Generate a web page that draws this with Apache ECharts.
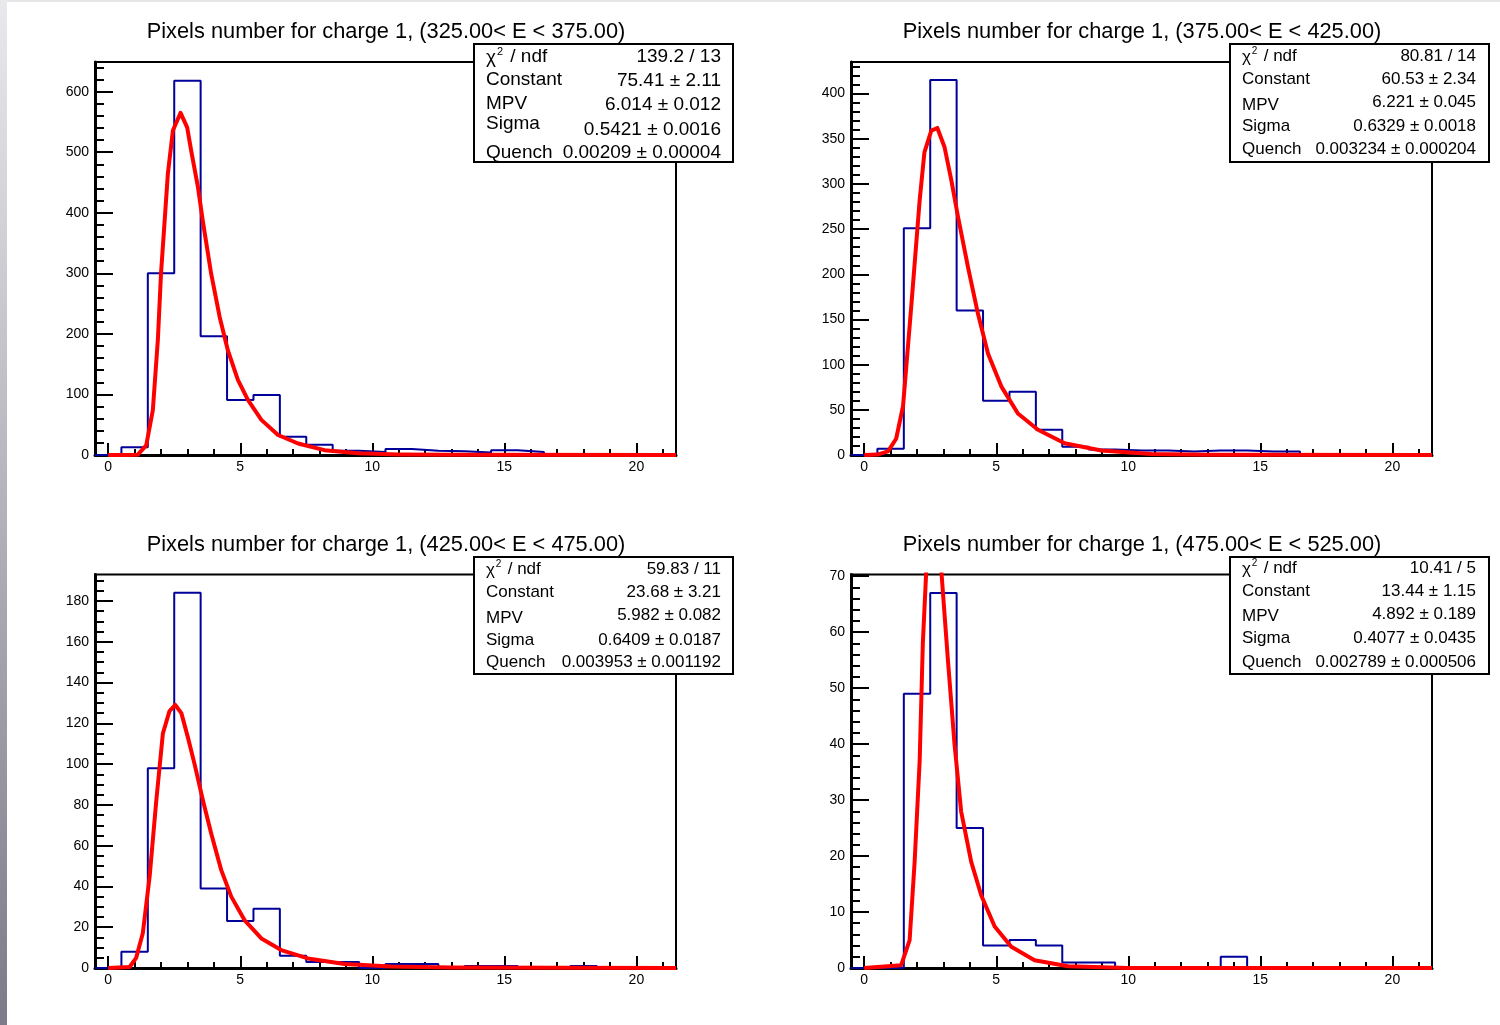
<!DOCTYPE html>
<html>
<head>
<meta charset="utf-8">
<script src="https://cdn.jsdelivr.net/npm/echarts@6/dist/echarts.min.js"></script>
<style>
html, body { margin: 0; padding: 0; background: #fff; }
#main { position: absolute; left: 0; top: 0; width: 1500px; height: 1025px; }
#strip { position: absolute; left: 0; top: 0; width: 7px; height: 1025px; background: linear-gradient(#e9e9ec, #7b7b89); }
#topline { position: absolute; left: 0; top: 0; width: 1500px; height: 2px; background: #e6e6e6; }
</style>
</head>
<body>
<div id="main"></div>
<div id="topline"></div>
<div id="strip"></div>
<script>
// bins are 1 wide, centred on 0..21
var binCenters = [0, 1, 2, 3, 4, 5, 6, 7, 8, 9, 10, 11, 12, 13, 14, 15, 16, 17, 18, 19, 20, 21];

var counts325 = [0, 13, 300, 618, 196, 91, 99, 30, 17, 7, 5, 10, 7, 6, 4, 8, 5, 0, 0, 0, 0, 0];
var counts375 = [0, 7, 251, 415, 160, 60, 70, 28, 9, 6, 5, 5, 4, 5, 5, 4, 4, 0, 1, 0, 0, 0];
var counts425 = [0, 8, 98, 184, 39, 23, 29, 6, 3, 3, 0, 2, 2, 0, 1, 1, 0, 0, 1, 0, 0, 0];
var counts475 = [0, 0, 49, 67, 25, 4, 5, 4, 1, 1, 0, 0, 0, 0, 2, 0, 0, 0, 0, 0, 0, 0];

// fitted curves
var fitX325 = [0, 0.5, 1.12, 1.44, 1.69, 1.88, 2.0, 2.13, 2.26, 2.45, 2.58, 2.74, 2.99, 3.14, 3.4, 3.58, 3.9, 4.22, 4.53, 4.91, 5.29, 5.8, 6.43, 7.19, 8.19, 9.46, 11, 13, 21.5];
var fitY325 = [0, 0, 0.5, 16, 74, 190, 300, 382, 465, 536, 549, 565, 541, 503, 442, 387, 299, 228, 173, 124, 91, 58, 33, 19, 8, 3, 1, 0.3, 0];
var fitX375 = [0, 0.5, 0.9, 1.21, 1.47, 1.78, 2.1, 2.28, 2.54, 2.77, 3.04, 3.3, 3.55, 3.93, 4.31, 4.69, 5.19, 5.82, 6.58, 7.59, 8.98, 10.87, 13, 21.5];
var fitY375 = [0, 0.5, 4, 18, 54, 164, 282, 335, 359, 362, 341, 304, 264, 208, 156, 112, 76, 46, 28, 13, 5, 1, 0.3, 0];
var fitX425 = [0, 0.81, 1.06, 1.31, 1.57, 1.82, 2.07, 2.32, 2.54, 2.77, 3.02, 3.27, 3.59, 3.9, 4.28, 4.66, 5.16, 5.8, 6.55, 7.56, 8.95, 10.7, 13, 21.5];
var fitY425 = [0, 0.5, 5, 17, 45, 82, 115, 126, 129, 125, 113, 100, 82, 66, 48, 35, 23.5, 14.5, 8.8, 4.7, 2, 0.7, 0.2, 0];
var fitX475 = [0, 1.4, 1.72, 1.91, 2.1, 2.22, 2.35, 2.5, 2.7, 2.92, 3.17, 3.42, 3.67, 4.05, 4.43, 4.94, 5.57, 6.45, 7.72, 10, 21.5];
var fitY475 = [0, 0.5, 5, 19, 37, 58, 71, 86, 87, 71, 55, 40, 28, 19, 13, 7.4, 3.8, 1.4, 0.3, 0, 0];

var titles = [
    'Pixels number for charge 1, (325.00< E < 375.00)',
    'Pixels number for charge 1, (375.00< E < 425.00)',
    'Pixels number for charge 1, (425.00< E < 475.00)',
    'Pixels number for charge 1, (475.00< E < 525.00)'
];

var statLabels = ['Constant', 'MPV', 'Sigma', 'Quench'];
var stats325 = ['139.2 / 13', '75.41 \u00b1 2.11', '6.014 \u00b1 0.012', '0.5421 \u00b1 0.0016', '0.00209 \u00b1 0.00004'];
var stats375 = ['80.81 / 14', '60.53 \u00b1 2.34', '6.221 \u00b1 0.045', '0.6329 \u00b1 0.0018', '0.003234 \u00b1 0.000204'];
var stats425 = ['59.83 / 11', '23.68 \u00b1 3.21', '5.982 \u00b1 0.082', '0.6409 \u00b1 0.0187', '0.003953 \u00b1 0.001192'];
var stats475 = ['10.41 / 5', '13.44 \u00b1 1.15', '4.892 \u00b1 0.189', '0.4077 \u00b1 0.0435', '0.002789 \u00b1 0.000506'];

var xMajorTicks = [0, 5, 10, 15, 20];
var yMajor325 = [0, 100, 200, 300, 400, 500, 600];
var yMajor375 = [0, 50, 100, 150, 200, 250, 300, 350, 400];
var yMajor425 = [0, 20, 40, 60, 80, 100, 120, 140, 160, 180];
var yMajor475 = [0, 10, 20, 30, 40, 50, 60, 70];

var FONT = '"Liberation Sans", Arial, Helvetica, sans-serif';

var panels = [
    { counts: counts325, fx: fitX325, fy: fitY325, stats: stats325, yMajor: yMajor325, yMinorStep: 20, yMax: 649,
      grid: { left: 95, top: 62, width: 581, height: 393 }, titleX: 381, titleY: 16,
      box: { x: 474, y: 44, w: 259, h: 118 }, textL: 486, textR: 721, fs: 19,
      labelY: [57, 80, 104, 124, 153], valueY: [57, 81, 104.5, 129.5, 153] },
    { counts: counts375, fx: fitX375, fy: fitY375, stats: stats375, yMajor: yMajor375, yMinorStep: 10, yMax: 435,
      grid: { left: 851, top: 62, width: 581, height: 393 }, titleX: 1137, titleY: 16,
      box: { x: 1230, y: 44, w: 259, h: 118 }, textL: 1242, textR: 1476, fs: 17,
      labelY: [56, 79, 105, 126, 149], valueY: [56, 79, 102, 126, 149] },
    { counts: counts425, fx: fitX425, fy: fitY425, stats: stats425, yMajor: yMajor425, yMinorStep: 5, yMax: 193,
      grid: { left: 95, top: 574.5, width: 581, height: 393.5 }, titleX: 381, titleY: 529,
      box: { x: 474, y: 557, w: 259, h: 117 }, textL: 486, textR: 721, fs: 17,
      labelY: [569, 592, 618, 640, 662], valueY: [569, 592, 615, 640, 662] },
    { counts: counts475, fx: fitX475, fy: fitY475, stats: stats475, yMajor: yMajor475, yMinorStep: 2, yMax: 70.3,
      grid: { left: 851, top: 574.5, width: 581, height: 393.5 }, titleX: 1137, titleY: 529,
      box: { x: 1230, y: 557, w: 259, h: 117 }, textL: 1242, textR: 1476, fs: 17,
      labelY: [568, 591, 616, 638, 662], valueY: [568, 591, 614, 638, 662] }
];

function histPoints(counts) {
    var pts = [];
    for (var i = 0; i < counts.length; i++) {
        pts.push([binCenters[i] - 0.5, counts[i]]);
    }
    pts.push([binCenters[counts.length - 1] + 0.5, counts[counts.length - 1]]);
    return pts;
}

function zip(xs, ys) {
    var pts = [];
    for (var i = 0; i < xs.length; i++) pts.push([xs[i], ys[i]]);
    return pts;
}

function minorTicks(max, step, majors) {
    var out = [];
    for (var v = step; v <= max; v += step) {
        v = Math.round(v * 1000) / 1000;
        if (majors.indexOf(v) < 0) out.push(v);
    }
    return out;
}

function txt(x, y, s, size, align) {
    return {
        type: 'text', x: x, y: y, z: 101,
        style: {
            text: s, fill: '#000', fontSize: size, fontFamily: FONT,
            textAlign: align, textVerticalAlign: 'middle', align: align, verticalAlign: 'middle'
        }
    };
}

var option = {
    animation: false,
    backgroundColor: '#fff',
    title: [],
    grid: [],
    xAxis: [],
    yAxis: [],
    series: [],
    graphic: { elements: [] }
};

var xMinor = minorTicks(21, 1, xMajorTicks);

panels.forEach(function(p, k) {
    option.title.push({
        text: titles[k], left: p.titleX, top: p.titleY, textAlign: 'center',
        textStyle: { fontSize: 21.8, fontWeight: 'normal', color: '#000', fontFamily: FONT }
    });
    option.grid.push({
        left: p.grid.left, top: p.grid.top, width: p.grid.width, height: p.grid.height,
        containLabel: false, outerBoundsMode: 'none',
        show: true, borderColor: '#000', borderWidth: 2, backgroundColor: 'transparent'
    });
    // main x axis with labels and major ticks
    option.xAxis.push({
        type: 'value', gridIndex: k, position: 'bottom', min: -0.5, max: 21.5,
        axisLine: { show: true, onZero: false, lineStyle: { color: '#000', width: 3 } },
        axisTick: { show: true, inside: true, length: 12, customValues: xMajorTicks, lineStyle: { color: '#000', width: 2 } },
        axisLabel: { show: true, customValues: xMajorTicks, margin: 5, fontSize: 14, color: '#000', fontFamily: FONT },
        splitLine: { show: false }
    });
    // minor x ticks
    option.xAxis.push({
        type: 'value', gridIndex: k, position: 'bottom', min: -0.5, max: 21.5,
        axisLine: { show: false, onZero: false },
        axisTick: { show: true, inside: true, length: 6, customValues: xMinor, lineStyle: { color: '#000', width: 2 } },
        axisLabel: { show: false },
        splitLine: { show: false }
    });
    option.yAxis.push({
        type: 'value', gridIndex: k, position: 'left', min: 0, max: p.yMax,
        axisLine: { show: true, onZero: false, lineStyle: { color: '#000', width: 3 } },
        axisTick: { show: true, inside: true, length: 18, customValues: p.yMajor, lineStyle: { color: '#000', width: 2 } },
        axisLabel: { show: true, customValues: p.yMajor, margin: 6, fontSize: 14, color: '#000', fontFamily: FONT },
        splitLine: { show: false }
    });
    option.yAxis.push({
        type: 'value', gridIndex: k, position: 'left', min: 0, max: p.yMax,
        axisLine: { show: false, onZero: false },
        axisTick: { show: true, inside: true, length: 9, customValues: minorTicks(p.yMax, p.yMinorStep, p.yMajor), lineStyle: { color: '#000', width: 2 } },
        axisLabel: { show: false },
        splitLine: { show: false }
    });
    option.series.push({
        type: 'line', xAxisIndex: 2 * k, yAxisIndex: 2 * k, step: 'end',
        data: histPoints(p.counts), symbol: 'none', clip: true, z: 3,
        lineStyle: { color: '#00009a', width: 2 }
    });
    option.series.push({
        type: 'line', xAxisIndex: 2 * k, yAxisIndex: 2 * k,
        data: zip(p.fx, p.fy), symbol: 'none', clip: true, z: 4,
        lineStyle: { color: '#ff0000', width: 4, join: 'round' }
    });

    // stats box
    var els = option.graphic.elements;
    els.push({
        type: 'rect', z: 100,
        shape: { x: p.box.x, y: p.box.y, width: p.box.w, height: p.box.h },
        style: { fill: '#fff', stroke: '#000', lineWidth: 2 }
    });
    var fs = p.fs;
    els.push(txt(p.textL, p.labelY[0] + 1, '\u03c7', fs, 'left'));
    els.push(txt(p.textL + fs * 0.58, p.labelY[0] - 5, '2', Math.round(fs * 0.6), 'left'));
    els.push(txt(p.textL + fs * 0.58 + fs * 0.42, p.labelY[0], ' / ndf', fs, 'left'));
    els.push(txt(p.textR, p.valueY[0], p.stats[0], fs, 'right'));
    for (var i = 0; i < statLabels.length; i++) {
        els.push(txt(p.textL, p.labelY[i + 1], statLabels[i], fs, 'left'));
        els.push(txt(p.textR, p.valueY[i + 1], p.stats[i + 1], fs, 'right'));
    }
});

var myChart = echarts.init(document.getElementById('main'));
option && myChart.setOption(option);
</script>
</body>
</html>
